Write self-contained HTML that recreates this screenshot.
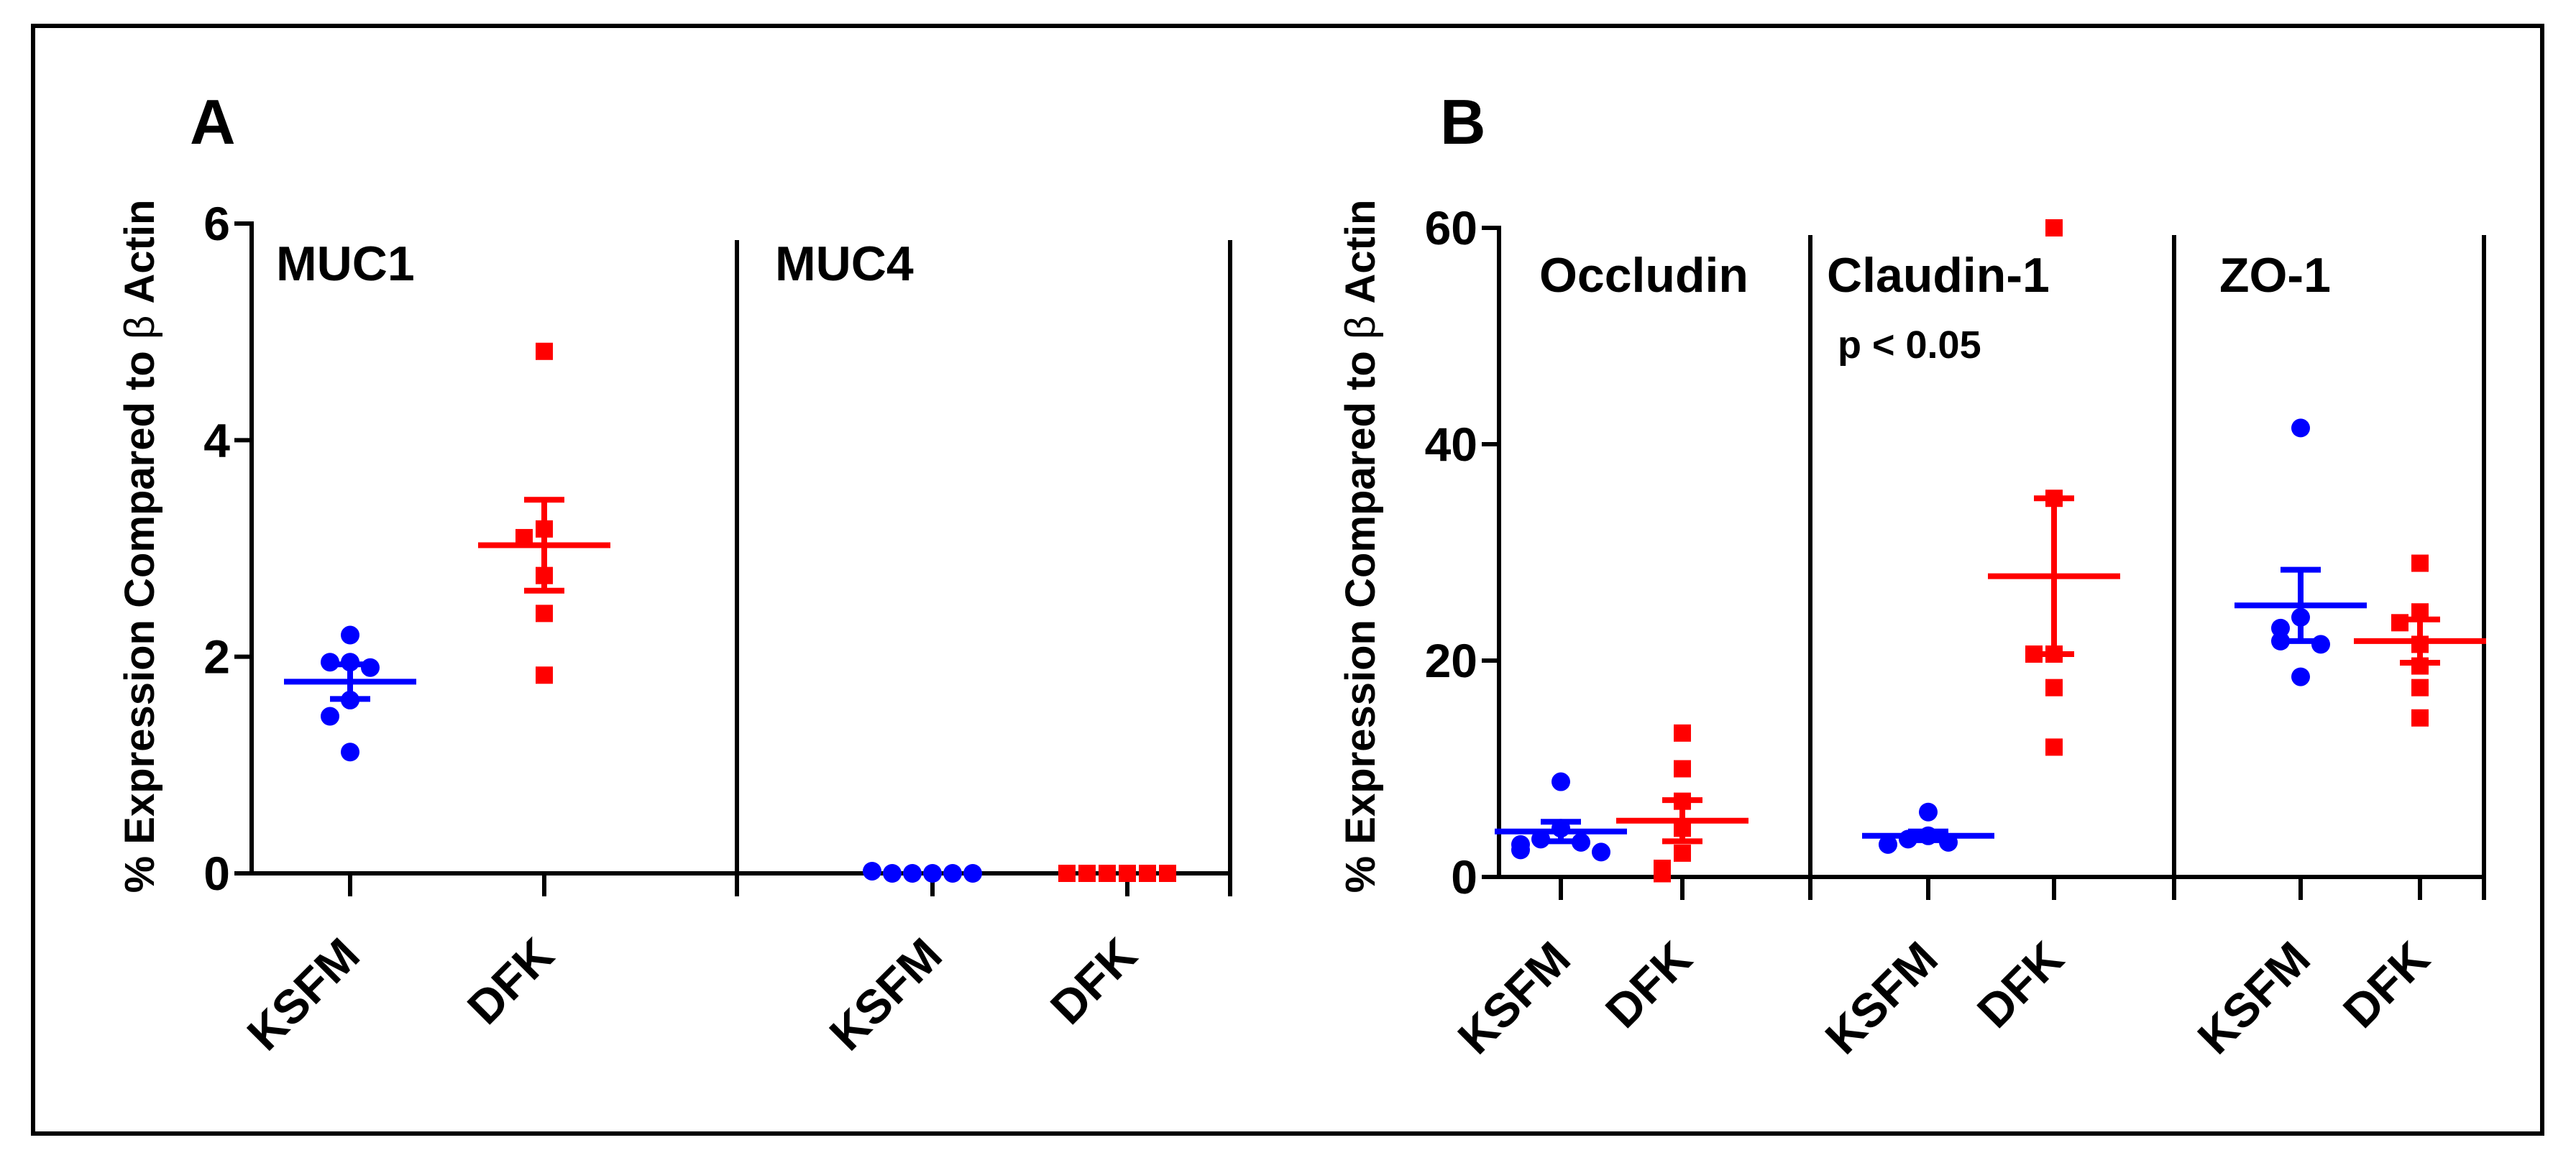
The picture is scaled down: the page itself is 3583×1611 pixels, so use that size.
<!DOCTYPE html>
<html><head><meta charset="utf-8"><style>
html,body{margin:0;padding:0;background:#fff}
svg{display:block}
text{font-family:"Liberation Sans",Arial,sans-serif;font-weight:bold}
</style></head><body>
<svg id="chart" width="3583" height="1611" viewBox="0 0 3583 1611" xmlns="http://www.w3.org/2000/svg">
<rect x="46" y="36" width="3490" height="1541" fill="#fff" stroke="#000" stroke-width="6"/>
<g id="gA"></g>
<g id="gB"></g>
</svg>
<script>
// ----- Panel A data -----
const panelAGenes = ["MUC1", "MUC4"];
const panelATicks = [0, 2, 4, 6];
const mucKsfm = [[2.2, 1.95, 1.95, 1.9, 1.6, 1.45, 1.12], [0, 0, 0, 0, 0, 0.02]];
const mucDfk = [[4.82, 3.18, 3.1, 2.75, 2.4, 1.83], [0, 0, 0, 0, 0, 0]];
const mucKsfmMean = [1.77, 0];
const mucKsfmSem = [0.16, 0];
const mucDfkMean = [3.03, 0];
const mucDfkSem = [0.42, 0];
// ----- Panel B data -----
const panelBGenes = ["Occludin", "Claudin-1", "ZO-1"];
const panelBTicks = [0, 20, 40, 60];
const tjKsfm = [[8.8, 4.5, 3.5, 3.2, 3.0, 2.5, 2.3], [6, 3.8, 3.5, 3.2, 3.0], [41.5, 24, 23, 21.8, 21.5, 18.5]];
const tjDfk = [[13.3, 10, 7, 4.5, 2.2, 0.8, 0.3], [60, 35, 20.6, 20.6, 17.5, 12], [29, 24.5, 23.5, 21.5, 19.5, 17.5, 14.7]];
const tjKsfmMean = [4.2, 3.8, 25.1];
const tjKsfmSem = [0.9, 0.4, 3.3];
const tjDfkMean = [5.2, 27.8, 21.8];
const tjDfkSem = [1.9, 7.2, 2.0];
const groupNames = ["KSFM", "DFK"];

const NS = "http://www.w3.org/2000/svg";
function mk(parent, tag, attrs, txt) {
  const e = document.createElementNS(NS, tag);
  for (const k in attrs) e.setAttribute(k, attrs[k]);
  if (txt !== undefined) e.textContent = txt;
  parent.appendChild(e);
  return e;
}

function drawPanel(g, cfg) {
  const yS = v => cfg.y0 - (v / cfg.yMax) * (cfg.y0 - cfg.yTop);
  const lw = 6;
  let e = mk(g, "line", {x1: cfg.x0, y1: cfg.yTop - 3, x2: cfg.x0, y2: cfg.y0 + lw / 2, stroke: "#000", "stroke-width": lw});
  
  
  e = mk(g, "line", {x1: cfg.x0, y1: cfg.y0, x2: cfg.xEnd, y2: cfg.y0, stroke: "#000", "stroke-width": lw});
  
  
  cfg.ticks.forEach(t => {
    const y = yS(t);
    let l = mk(g, "line", {x1: cfg.x0 - 24, y1: y, x2: cfg.x0, y2: y, stroke: "#000", "stroke-width": lw});
    
    
    let tx = mk(g, "text", {x: cfg.x0 - 30, y: y + 23, "text-anchor": "end", "font-size": 66}, String(t));
    
    
  });
  const ly = mk(g, "text", {transform: `translate(${cfg.labelX},${cfg.labelY}) rotate(-90)`, "text-anchor": "middle", "font-size": 58});
  
  
  mk(ly, "tspan", {}, "% Expression Compared to ");
  mk(ly, "tspan", {"font-weight": "normal"}, " β ");
  mk(ly, "tspan", {}, " Actin");
  e = mk(g, "text", {x: cfg.letterX, y: 200, "font-size": 88}, cfg.letter);
  
  
  cfg.dividers.forEach(dx => {
    let d = mk(g, "line", {x1: dx, y1: cfg.divTop, x2: dx, y2: cfg.y0 + 32, stroke: "#000", "stroke-width": lw});
    
    
  });
  cfg.genes.forEach((name, gi) => {
    let t = mk(g, "text", {x: cfg.geneX[gi], y: cfg.geneY, "font-size": 68}, name);
    
    
    [0, 1].forEach(si => {
      const cx = cfg.groupX[gi * 2 + si];
      const color = si === 0 ? "#0000ff" : "#ff0000";
      let tk = mk(g, "line", {x1: cx, y1: cfg.y0, x2: cx, y2: cfg.y0 + 32, stroke: "#000", "stroke-width": lw});
      
      
      let xl = mk(g, "text", {transform: `translate(${cx + 17},${cfg.y0 + 118}) rotate(-45)`, "text-anchor": "end", "font-size": 66}, groupNames[si]);
      
      
      const vals = (si === 0 ? cfg.ks : cfg.dk)[gi];
      const mean = (si === 0 ? cfg.ksMean : cfg.dkMean)[gi];
      const sem = (si === 0 ? cfg.ksSem : cfg.dkSem)[gi];
      const placed = [];
      vals.forEach(v => {
        const y = yS(v);
        const near = placed.filter(p => Math.abs(p - y) < 24).length;
        placed.push(y);
        const k = near === 0 ? 0 : (near % 2 ? -1 : 1) * Math.ceil(near / 2);
        const x = cx + k * 28;
        let m;
        if (si === 0) m = mk(g, "circle", {cx: x, cy: y, r: 13, fill: color});
        else m = mk(g, "rect", {x: x - 12, y: y - 12, width: 24, height: 24, fill: color});
        
        
      });
      if (mean > 0) {
        const ym = yS(mean), yh = yS(mean + sem), yl = yS(mean - sem);
        let ml = mk(g, "line", {x1: cx - 92, y1: ym, x2: cx + 92, y2: ym, stroke: color, "stroke-width": 8});
        
        
        let el = mk(g, "line", {x1: cx, y1: yh, x2: cx, y2: yl, stroke: color, "stroke-width": 8});
        
        
        [yh, yl].forEach(yy => {
          let c = mk(g, "line", {x1: cx - 28, y1: yy, x2: cx + 28, y2: yy, stroke: color, "stroke-width": 8});
          
          
        });
      }
    });
  });
}

drawPanel(document.getElementById("gA"), {
  x0: 350, xEnd: 1711, y0: 1215, yTop: 311, yMax: 6, ticks: panelATicks,
  labelX: 214, labelY: 760, letter: "A", letterX: 264,
  dividers: [1025, 1711], divTop: 334, genes: panelAGenes, geneX: [384, 1078], geneY: 390,
  groupX: [487, 757, 1297, 1568],
  ks: mucKsfm, dk: mucDfk, ksMean: mucKsfmMean, ksSem: mucKsfmSem, dkMean: mucDfkMean, dkSem: mucDfkSem
});
drawPanel(document.getElementById("gB"), {
  x0: 2085, xEnd: 3455, y0: 1220, yTop: 317, yMax: 60, ticks: panelBTicks,
  labelX: 1912, labelY: 760, letter: "B", letterX: 2003,
  dividers: [2518, 3024, 3455], divTop: 327, genes: panelBGenes, geneX: [2141, 2541, 3087], geneY: 406,
  groupX: [2171, 2340, 2682, 2857, 3200, 3366],
  ks: tjKsfm, dk: tjDfk, ksMean: tjKsfmMean, ksSem: tjKsfmSem, dkMean: tjDfkMean, dkSem: tjDfkSem
});
const pv = mk(document.getElementById("gB"), "text", {x: 2556, y: 498, "font-size": 54}, "p < 0.05");


</script>
</body></html>
